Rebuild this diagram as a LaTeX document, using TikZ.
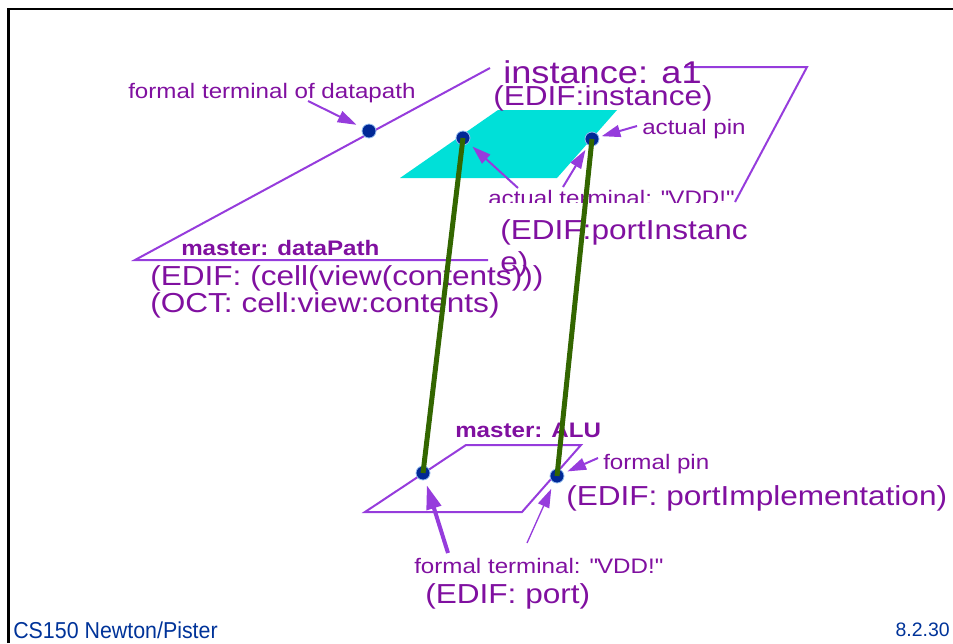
\documentclass[tikz,border=0pt]{standalone}
\usepackage{fontspec}
\setmainfont{Liberation Sans}[FakeStretch=1.15]
\newfontfamily\footfont{Liberation Sans}[FakeStretch=0.93]
\newfontfamily\pagefont{Liberation Sans}
\usetikzlibrary{arrows.meta}

\definecolor{txtpurple}{RGB}{128,16,160}
\definecolor{linepurple}{RGB}{150,60,220}
\definecolor{padcyan}{RGB}{0,224,216}
\definecolor{dotblue}{RGB}{0,40,150}
\definecolor{dotedge}{RGB}{150,190,240}
\definecolor{wiregreen}{RGB}{51,102,0}
\definecolor{footblue}{RGB}{0,51,153}

\begin{document}
\begin{tikzpicture}[x=0.75pt,y=-0.75pt,
  small/.style={text=txtpurple,inner sep=0pt,anchor=base west,font=\fontsize{15.75}{18}\selectfont},
  big/.style={text=txtpurple,inner sep=0pt,anchor=base west,font=\fontsize{20.6}{22}\selectfont},
  edge/.style={linepurple,line width=1.5pt},
  pin/.style={circle,fill=dotblue,draw=dotedge,line width=0.6pt,inner sep=0pt,minimum size=10.5pt},
  wire/.style={wiregreen,line width=3.75pt},
  pointer/.style={linepurple,line width=1.5pt,-{Triangle[length=14pt,width=9pt]},shorten >=3pt}]

\useasboundingbox (0,0) rectangle (953,643);

% slide frame (top and left edge only)
\draw[line width=2.2pt] (8.5,643) -- (8.5,9) -- (953,9);

% outline of master dataPath and of instance a1
\draw[edge] (490,68) -- (135,260) -- (488,260);
\draw[edge] (684,67) -- (807,67) -- (735,202);

% instance a1: cyan pad
\fill[padcyan] (400,178) -- (498,110) -- (617,110) -- (557,178) -- cycle;

% master ALU: outline
\draw[edge] (365,512) -- (466,445) -- (581,445) -- (522,512) -- cycle;

% labels, top half
\node[small] (fdplbl) at (128,98) {formal terminal of datapath};
\node[text=txtpurple,inner sep=0pt,anchor=base west,font=\fontsize{23.6}{26}\selectfont] (instlbl) at (503,83) {instance: a1};
\node[big] (instedif) at (493,105) {(EDIF:instance)};
\node[small] (aplbl) at (642,134) {actual pin};
\begin{scope}
  \clip (480,180) rectangle (760,202.5); % label is cut off at the bottom
  \node[small] (atlbl) at (488,205) {actual terminal: \textquotedbl VDD!\textquotedbl};
\end{scope}
\node[big] (atedif) at (500,239) {(EDIF:portInstanc};
\node[big] (atedifb) at (500,271) {e)};
\node[small,font=\fontsize{15.75}{18}\selectfont\bfseries] (dplbl) at (181,255) {master: dataPath};
\node[big] (dpedif) at (150,285) {(EDIF: (cell(view(contents)))};
\node[big] (dpoct) at (150,312) {(OCT: cell:view:contents)};

% labels, bottom half
\node[small,font=\fontsize{15.75}{18}\selectfont\bfseries] (alulbl) at (455,437) {master: ALU};
\node[small] (fplbl) at (603,469) {formal pin};
\node[big] (fpedif) at (566,505) {(EDIF: portImplementation)};
\node[small] (ftlbl) at (414,573) {formal terminal: \textquotedbl VDD!\textquotedbl};
\node[big] (ftedif) at (425,603) {(EDIF: port)};

% footer
\node[text=footblue,inner sep=0pt,anchor=base west,font=\footfont\fontsize{17.25}{20}\selectfont] (credit) at (13,638) {CS150 Newton/Pister};
\node[text=footblue,inner sep=0pt,anchor=base east,font=\pagefont\fontsize{14.6}{17}\selectfont] (pageno) at (950,636) {8.2.30};

% terminals and pins
\node[pin] (fdp) at (369,131) {};
\node[pin] (ater) at (463,138) {};
\node[pin] (apin) at (592,139) {};
\node[pin] (fter) at (423,473) {};
\node[pin] (fpin) at (557,476) {};

% connections between instance and master
\draw[wire] (ater.center) -- (fter.center);
\draw[wire] (apin.center) -- (fpin.center);

% pointer tails
\coordinate (fdptail) at (308,101);
\coordinate (attailL) at (518,188);
\coordinate (attailR) at (563,187);
\coordinate (aptail) at (637,126);
\coordinate (fptail) at (598,458);
\coordinate (fttailL) at (448,553);
\coordinate (fttailR) at (527,543);

\draw[pointer,shorten >=5pt] (fdptail) -- (fdp);
\draw[pointer,shorten >=2pt] (aptail) -- (apin);
\draw[pointer,shorten >=4pt] (attailL) -- (ater);
\draw[pointer,shorten >=4pt] (attailR) -- (apin);
\draw[pointer] (fptail) -- (fpin);
\draw[pointer,line width=3pt,-{Triangle[length=18pt,width=11pt]},shorten >=4pt] (fttailL) -- (fter);
\draw[pointer,line width=1pt,shorten >=5pt] (fttailR) -- (fpin);

\end{tikzpicture}
\end{document}
